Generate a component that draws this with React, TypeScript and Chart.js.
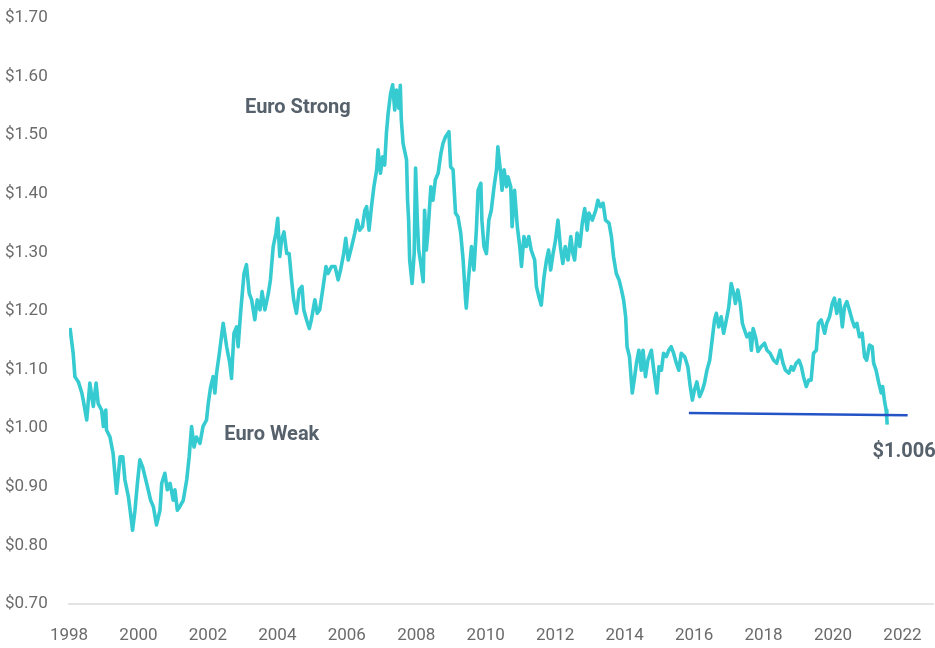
import React, { useEffect, useRef } from "react";
import { Chart, registerables } from "chart.js";

Chart.register(...registerables);

// Decimal-year positions of the EUR/USD series as plotted, and the rate at each
const years = [
  1998.03, 1998.12, 1998.17, 1998.27, 1998.37, 1998.41, 1998.51, 1998.6, 1998.7, 1998.78,
  1998.84, 1998.94, 1998.99, 1999.06, 1999.08, 1999.18, 1999.27, 1999.37, 1999.47, 1999.55,
  1999.61, 1999.71, 1999.76, 1999.83, 1999.9, 1999.97, 2000.04, 2000.12, 2000.19, 2000.28,
  2000.35, 2000.43, 2000.52, 2000.62, 2000.67, 2000.76, 2000.83, 2000.91, 2001.0, 2001.05,
  2001.12, 2001.19, 2001.29, 2001.39, 2001.46, 2001.53, 2001.6, 2001.67, 2001.77, 2001.86,
  2001.96, 2002.01, 2002.08, 2002.15, 2002.2, 2002.25, 2002.33, 2002.39, 2002.44, 2002.54,
  2002.63, 2002.68, 2002.75, 2002.83, 2002.87, 2002.94, 2003.04, 2003.11, 2003.19, 2003.26,
  2003.35, 2003.42, 2003.5, 2003.56, 2003.64, 2003.74, 2003.8, 2003.88, 2003.96, 2004.01,
  2004.07, 2004.12, 2004.19, 2004.27, 2004.34, 2004.41, 2004.47, 2004.55, 2004.63, 2004.71,
  2004.76, 2004.84, 2004.92, 2004.98, 2005.08, 2005.15, 2005.22, 2005.32, 2005.4, 2005.46,
  2005.56, 2005.66, 2005.75, 2005.82, 2005.91, 2005.97, 2006.04, 2006.14, 2006.23, 2006.3,
  2006.37, 2006.45, 2006.52, 2006.57, 2006.64, 2006.71, 2006.78, 2006.86, 2006.9, 2006.97,
  2007.03, 2007.09, 2007.14, 2007.19, 2007.26, 2007.32, 2007.38, 2007.43, 2007.5, 2007.54,
  2007.57, 2007.62, 2007.72, 2007.75, 2007.78, 2007.81, 2007.88, 2007.94, 2007.98, 2008.03,
  2008.07, 2008.13, 2008.2, 2008.24, 2008.29, 2008.34, 2008.42, 2008.48, 2008.55, 2008.63,
  2008.71, 2008.77, 2008.84, 2008.94, 2008.99, 2009.06, 2009.13, 2009.2, 2009.28, 2009.35,
  2009.42, 2009.44, 2009.51, 2009.59, 2009.66, 2009.73, 2009.78, 2009.86, 2009.89, 2009.95,
  2010.02, 2010.09, 2010.16, 2010.24, 2010.31, 2010.35, 2010.43, 2010.47, 2010.53, 2010.6,
  2010.64, 2010.72, 2010.76, 2010.83, 2010.91, 2010.98, 2011.03, 2011.1, 2011.17, 2011.24,
  2011.31, 2011.41, 2011.46, 2011.53, 2011.6, 2011.68, 2011.75, 2011.81, 2011.87, 2011.94,
  2012.01, 2012.08, 2012.15, 2012.22, 2012.29, 2012.37, 2012.45, 2012.51, 2012.56, 2012.63,
  2012.71, 2012.78, 2012.85, 2012.92, 2012.97, 2013.07, 2013.17, 2013.23, 2013.3, 2013.38,
  2013.45, 2013.55, 2013.62, 2013.68, 2013.76, 2013.84, 2013.91, 2013.97, 2014.03, 2014.07,
  2014.14, 2014.22, 2014.29, 2014.34, 2014.41, 2014.48, 2014.53, 2014.6, 2014.67, 2014.77,
  2014.84, 2014.93, 2014.99, 2015.06, 2015.12, 2015.2, 2015.27, 2015.34, 2015.41, 2015.49,
  2015.56, 2015.63, 2015.73, 2015.82, 2015.89, 2015.95, 2016.01, 2016.08, 2016.16, 2016.24,
  2016.3, 2016.37, 2016.45, 2016.52, 2016.59, 2016.64, 2016.71, 2016.78, 2016.85, 2016.93,
  2017.0, 2017.07, 2017.14, 2017.19, 2017.26, 2017.33, 2017.39, 2017.45, 2017.52, 2017.6,
  2017.65, 2017.7, 2017.78, 2017.84, 2017.93, 2018.03, 2018.1, 2018.19, 2018.29, 2018.38,
  2018.48, 2018.56, 2018.63, 2018.73, 2018.8, 2018.86, 2018.94, 2019.02, 2019.09, 2019.15,
  2019.23, 2019.3, 2019.37, 2019.44, 2019.52, 2019.58, 2019.66, 2019.76, 2019.82, 2019.9,
  2019.98, 2020.04, 2020.11, 2020.19, 2020.27, 2020.33, 2020.4, 2020.47, 2020.55, 2020.62,
  2020.69, 2020.76, 2020.84, 2020.91, 2020.97, 2021.05, 2021.13, 2021.17, 2021.24, 2021.32,
  2021.39, 2021.43, 2021.48, 2021.53, 2021.55, 2021.56,
];

const rates = [
  1.171, 1.128, 1.088, 1.079, 1.06, 1.048, 1.014, 1.077, 1.037, 1.077,
  1.042, 1.031, 1.003, 1.031, 0.997, 0.985, 0.957, 0.889, 0.951, 0.951,
  0.912, 0.883, 0.86, 0.826, 0.86, 0.906, 0.946, 0.934, 0.917, 0.895,
  0.877, 0.866, 0.835, 0.86, 0.906, 0.923, 0.895, 0.906, 0.877, 0.895,
  0.86, 0.866, 0.877, 0.912, 0.951, 1.003, 0.968, 0.985, 0.974, 1.003,
  1.014, 1.042, 1.071, 1.088, 1.06, 1.094, 1.128, 1.156, 1.179, 1.139,
  1.111, 1.085, 1.162, 1.173, 1.139, 1.196, 1.264, 1.279, 1.23, 1.219,
  1.185, 1.219, 1.202, 1.233, 1.202, 1.23, 1.253, 1.31, 1.333, 1.358,
  1.293, 1.321, 1.335, 1.298, 1.298, 1.253, 1.219, 1.196, 1.236, 1.242,
  1.202, 1.185, 1.17, 1.185, 1.219, 1.196, 1.202, 1.242, 1.276, 1.264,
  1.276, 1.276, 1.253, 1.27, 1.298, 1.324, 1.287, 1.31, 1.333, 1.355,
  1.338, 1.344, 1.372, 1.378, 1.338, 1.378, 1.412, 1.441, 1.475, 1.435,
  1.463, 1.449, 1.503, 1.537, 1.571, 1.586, 1.543, 1.577, 1.546, 1.585,
  1.526, 1.486, 1.458, 1.389, 1.355, 1.287, 1.247, 1.298, 1.444, 1.355,
  1.304, 1.281, 1.25, 1.372, 1.304, 1.338, 1.412, 1.389, 1.424, 1.435,
  1.469, 1.486, 1.497, 1.506, 1.446, 1.441, 1.367, 1.361, 1.333, 1.287,
  1.219, 1.205, 1.259, 1.31, 1.27, 1.338, 1.406, 1.418, 1.355, 1.31,
  1.298, 1.355, 1.372, 1.412, 1.441, 1.48, 1.435, 1.406, 1.441, 1.412,
  1.429, 1.412, 1.344, 1.406, 1.344, 1.31, 1.276, 1.327, 1.31, 1.327,
  1.304, 1.287, 1.242, 1.224, 1.21, 1.259, 1.287, 1.304, 1.27, 1.298,
  1.321, 1.355, 1.31, 1.281, 1.31, 1.287, 1.327, 1.298, 1.287, 1.333,
  1.31, 1.35, 1.375, 1.338, 1.367, 1.355, 1.372, 1.389, 1.378, 1.384,
  1.355, 1.35, 1.327, 1.293, 1.264, 1.253, 1.236, 1.219, 1.19, 1.139,
  1.122, 1.06, 1.088, 1.111, 1.133, 1.099, 1.133, 1.088, 1.116, 1.133,
  1.099, 1.06, 1.105, 1.099, 1.128, 1.122, 1.133, 1.139, 1.128, 1.111,
  1.099, 1.128, 1.122, 1.105, 1.071, 1.048, 1.065, 1.079, 1.054, 1.065,
  1.077, 1.099, 1.116, 1.151, 1.185, 1.196, 1.173, 1.19, 1.162, 1.185,
  1.207, 1.247, 1.23, 1.213, 1.236, 1.213, 1.179, 1.168, 1.156, 1.162,
  1.133, 1.17, 1.153, 1.131, 1.139, 1.145, 1.133, 1.128, 1.116, 1.111,
  1.133, 1.111, 1.099, 1.094, 1.105, 1.099, 1.111, 1.116, 1.105, 1.088,
  1.071, 1.082, 1.082, 1.128, 1.133, 1.179, 1.185, 1.162, 1.179, 1.19,
  1.213, 1.222, 1.196, 1.219, 1.173, 1.207, 1.216, 1.202, 1.185, 1.173,
  1.179, 1.156, 1.162, 1.122, 1.116, 1.142, 1.139, 1.111, 1.099, 1.077,
  1.06, 1.071, 1.048, 1.031, 1.017, 1.006,
];

// Horizontal support line
const supportYears = [2015.85, 2022.15];
const supportRates = [1.026, 1.022];

// Axis ticks
const xTickYears = [1998, 2000, 2002, 2004, 2006, 2008, 2010, 2012, 2014, 2016, 2018, 2020, 2022];
const yTickValues = [0.7, 0.8, 0.9, 1.0, 1.1, 1.2, 1.3, 1.4, 1.5, 1.6, 1.7];

// Text notes anchored in data space
const noteTexts = ["Euro Strong", "Euro Weak", "$1.006"];
const noteYears = [2004.59, 2003.84, 2021.14];
const noteRates = [1.546, 0.988, 0.959];
const noteAligns = ["center", "center", "left"];

const FONT = "Roboto, 'Liberation Sans', sans-serif";

const notesPlugin = {
  id: "notes",
  afterDatasetsDraw(chart: any) {
    const { ctx, scales } = chart;
    const xs = scales.x;
    const ys = scales.y;
    ctx.save();
    ctx.fillStyle = "#56616c";
    ctx.font = `bold 20px ${FONT}`;
    ctx.textBaseline = "middle";
    noteTexts.forEach((t, i) => {
      ctx.textAlign = noteAligns[i];
      ctx.fillText(t, xs.getPixelForValue(noteYears[i]), ys.getPixelForValue(noteRates[i]));
    });
    ctx.restore();
  },
};

export default function App() {
  const ref = useRef<HTMLCanvasElement | null>(null);

  useEffect(() => {
    document.body.style.margin = "0";
    if (!ref.current) return;
    const chart = new Chart(ref.current, {
      type: "line",
      data: {
        datasets: [
          {
            data: supportYears.map((x, i) => ({ x, y: supportRates[i] })),
            borderColor: "#2453c6",
            borderWidth: 2.5,
            pointRadius: 0,
            tension: 0,
          },
          {
            data: years.map((x, i) => ({ x, y: rates[i] })),
            borderColor: "#36cbd0",
            borderWidth: 3.6,
            pointRadius: 0,
            tension: 0,
            borderJoinStyle: "round",
          },
        ],
      },
      options: {
        animation: false,
        responsive: true,
        maintainAspectRatio: false,
        layout: { padding: { left: 5, top: 18, right: 2, bottom: 0 } },
        plugins: { legend: { display: false }, tooltip: { enabled: false } },
        scales: {
          x: {
            type: "linear",
            min: 1998,
            max: 2022.88,
            afterBuildTicks: (s: any) => {
              s.ticks = xTickYears.map((v) => ({ value: v }));
            },
            afterFit: (s: any) => {
              s.height = 44;
              s.paddingLeft = 0;
              s.paddingRight = 0;
            },
            grid: { display: false, drawTicks: false },
            border: { display: true, color: "#e4e4e4", width: 2 },
            ticks: {
              autoSkip: false,
              maxRotation: 0,
              padding: 22,
              color: "#6b6b6b",
              font: { family: FONT, size: 17 },
              callback: (v: any) => String(v),
            },
          },
          y: {
            min: 0.7,
            max: 1.7,
            afterBuildTicks: (s: any) => {
              s.ticks = yTickValues.map((v) => ({ value: v }));
            },
            afterFit: (s: any) => {
              s.width = 64;
            },
            grid: { display: false, drawTicks: false },
            border: { display: false },
            ticks: {
              crossAlign: "far",
              color: "#6b6b6b",
              font: { family: FONT, size: 17 },
              callback: (v: any) => "$" + Number(v).toFixed(2),
            },
          },
        },
      },
      plugins: [notesPlugin],
    });
    return () => chart.destroy();
  }, []);

  return (
    <div style={{ width: 935, height: 648, position: "relative" }}>
      <canvas ref={ref} />
    </div>
  );
}
